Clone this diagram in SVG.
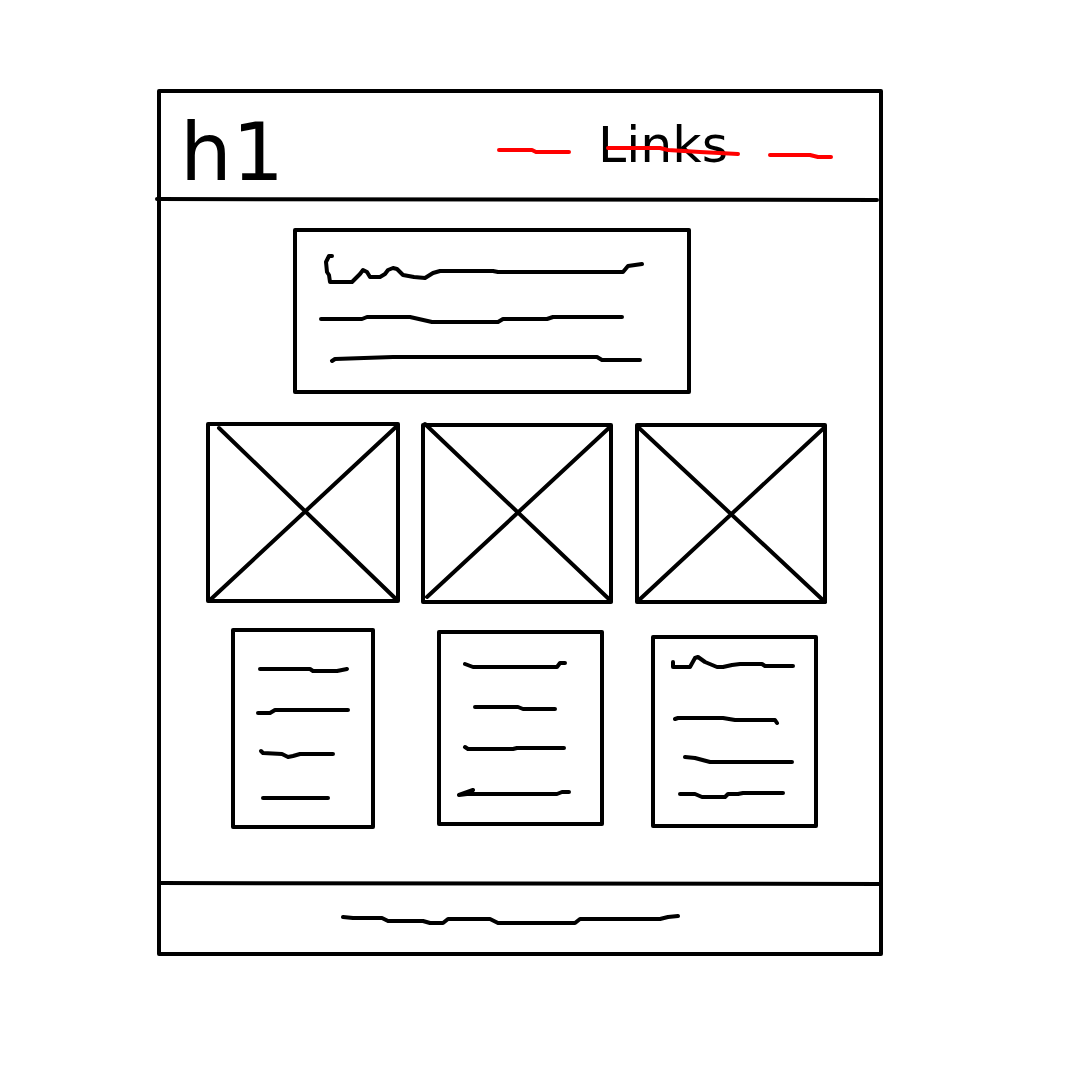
<svg xmlns="http://www.w3.org/2000/svg" width="1080" height="1080" viewBox="0 0 1080 1080">
<style>
.b{fill:none;stroke:#000;stroke-width:4;stroke-linecap:round;stroke-linejoin:round}
.s{fill:none;stroke:#000;stroke-width:4;stroke-linecap:round;stroke-linejoin:round}
.r{fill:none;stroke:#ff0000;stroke-width:4;stroke-linecap:round;stroke-linejoin:round}
.t{font-family:"DejaVu Sans","Liberation Sans",sans-serif;fill:#000}
</style>
<rect width="1080" height="1080" fill="#fff"/>
<g id="page">
<rect class="b" x="159" y="91" width="722" height="863"/>
<path class="b" d="M157,199 L877,200"/>
<path class="b" d="M159,883 L881,884"/>
</g>
<g id="header">
<text class="t" x="180" y="180" font-size="80" textLength="104" lengthAdjust="spacingAndGlyphs">h1</text>
<text class="t" x="598" y="162" font-size="50" textLength="130" lengthAdjust="spacingAndGlyphs">Links</text>
<path class="r" d="M499,150 L532,150 L536,152 L569,152"/>
<path class="r" d="M608,148 L660,148 L668,150 L700,152 L738,154"/>
<path class="r" d="M770,155 L810,155 L818,157 L831,157"/>
</g>
<g id="hero">
<rect class="b" x="295" y="230" width="394" height="162"/>
<path class="s" d="M332,256 L329,256 L326,262 L327,272 L329,275 L330,282 L352,282 L360,274 L363,270 L367,272 L370,277 L380,277 L385,274 L388,270 L393,268 L397,269 L403,275 L414,277 L425,278 L433,273 L440,271 L493,271 L498,272 L623,272 L628,266 L642,264"/>
<path class="s" d="M321,319 L362,319 L367,317 L410,317 L432,322 L498,322 L503,319 L547,319 L553,317 L622,317"/>
<path class="s" d="M332,361 L335,359 L393,357 L597,357 L602,360 L640,360"/>
</g>
<g id="image1">
<rect class="b" x="208" y="424" width="190" height="177"/>
<path class="b" d="M219,428 L397,600 M210,600 L397,426"/>
</g>
<g id="image2">
<rect class="b" x="423" y="425" width="188" height="177"/>
<path class="b" d="M425,424 L611,601 M427,597 L610,427"/>
</g>
<g id="image3">
<rect class="b" x="637" y="425" width="188" height="177"/>
<path class="b" d="M638,427 L825,602 M638,601 L825,427"/>
</g>
<g id="card1">
<rect class="b" x="233" y="630" width="140" height="197"/>
<path class="s" d="M260,669 L310,669 L313,671 L337,671 L347,669"/>
<path class="s" d="M258,713 L270,713 L275,710 L348,710"/>
<path class="s" d="M261,751 L263,753 L282,754 L288,757 L293,756 L300,754 L333,754"/>
<path class="s" d="M263,798 L328,798"/>
</g>
<g id="card2">
<rect class="b" x="439" y="632" width="163" height="192"/>
<path class="s" d="M465,664 L473,667 L557,667 L560,663 L565,663"/>
<path class="s" d="M475,707 L518,707 L523,709 L555,709"/>
<path class="s" d="M465,747 L468,749 L513,749 L517,748 L564,748"/>
<path class="s" d="M473,790 L459,795 L467,794 L557,794 L562,792 L569,792"/>
</g>
<g id="card3">
<rect class="b" x="653" y="637" width="163" height="189"/>
<path class="s" d="M673,662 L673,667 L690,667 L695,658 L698,657 L705,662 L717,667 L723,667 L732,665 L740,664 L762,664 L765,666 L793,666"/>
<path class="s" d="M675,719 L678,718 L723,718 L735,720 L775,720 L777,723"/>
<path class="s" d="M685,757 L695,758 L710,762 L792,762"/>
<path class="s" d="M680,794 L695,794 L702,797 L725,797 L728,794 L738,794 L743,793 L783,793"/>
</g>
<g id="footer">
<path class="s" d="M343,917 L353,918 L382,918 L388,921 L423,921 L430,923 L443,923 L448,919 L490,919 L498,923 L575,923 L580,919 L660,919 L668,917 L678,916"/>
</g>
<g id="connectors"></g>
</svg>
